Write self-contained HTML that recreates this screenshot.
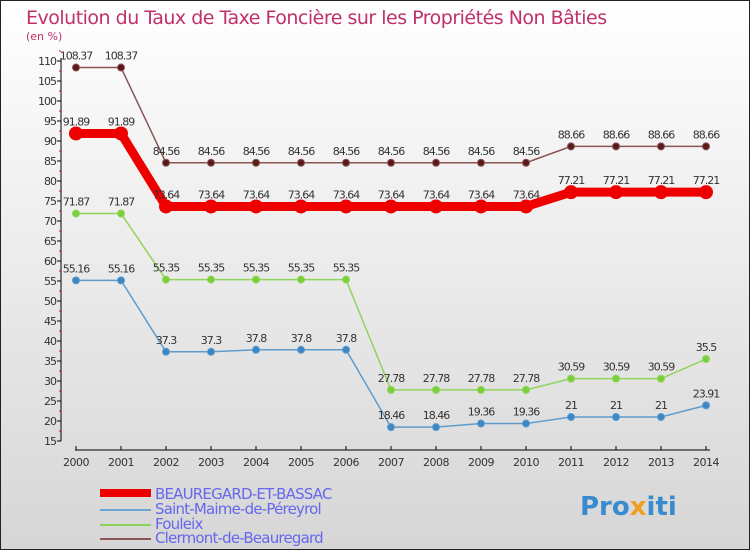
<!DOCTYPE html>
<html><head><meta charset="utf-8"><style>
body{margin:0}
svg{display:block;font-family:"DejaVu Sans","Liberation Sans",sans-serif}
</style></head><body>
<svg width="750" height="550">
<defs><linearGradient id="bg" x1="0" y1="0" x2="0" y2="1"><stop offset="0" stop-color="#ffffff"/><stop offset="1" stop-color="#d6d6d6"/></linearGradient></defs>
<rect x="0.5" y="0.5" width="749" height="549" fill="url(#bg)" stroke="#222"/>
<text x="26" y="24" font-size="19" fill="#c0306a" style="letter-spacing:-0.5px">Evolution du Taux de Taxe Foncière sur les Propriétés Non Bâties</text>
<text x="26" y="40" font-size="11" fill="#c0306a">(en %)</text>
<g id="axes"></g>
<g id="series"></g>
<g id="legend"></g>
<text x="580" y="515" font-size="26" font-weight="bold" fill="#3a8ad0">Pro<tspan fill="#f0a020">x</tspan>iti</text>
</svg>
<script>
const years=[2000,2001,2002,2003,2004,2005,2006,2007,2008,2009,2010,2011,2012,2013,2014];
const yTicks=[15,20,25,30,35,40,45,50,55,60,65,70,75,80,85,90,95,100,105,110];
const beauregard=[91.89,91.89,73.64,73.64,73.64,73.64,73.64,73.64,73.64,73.64,73.64,77.21,77.21,77.21,77.21];
const saintMaime=[55.16,55.16,37.3,37.3,37.8,37.8,37.8,18.46,18.46,19.36,19.36,21,21,21,23.91];
const fouleix=[71.87,71.87,55.35,55.35,55.35,55.35,55.35,27.78,27.78,27.78,27.78,30.59,30.59,30.59,35.5];
const clermont=[108.37,108.37,84.56,84.56,84.56,84.56,84.56,84.56,84.56,84.56,84.56,88.66,88.66,88.66,88.66];
const seriesNames=["BEAUREGARD-ET-BASSAC","Saint-Maime-de-Péreyrol","Fouleix","Clermont-de-Beauregard"];
const NS="http://www.w3.org/2000/svg";
const xS=i=>76+i*45;
const yS=v=>61+(110-v)*4;
function mk(t,a,p){const e=document.createElementNS(NS,t);for(const k in a)e.setAttribute(k,a[k]);p.appendChild(e);return e;}
const ax=document.getElementById('axes');
let l=mk('line',{x1:61,y1:58,x2:61,y2:441,stroke:'#000','stroke-width':1},ax);


yTicks.forEach(v=>{
  mk('line',{x1:57,y1:yS(v),x2:61,y2:yS(v),stroke:'#000'},ax);
  mk('line',{x1:59,y1:yS(v+2.5),x2:61,y2:yS(v+2.5),stroke:'#e00'},ax);
  const t=mk('text',{x:56,y:yS(v)+4,'font-size':11,'text-anchor':'end',fill:'#333','letter-spacing':'-1'},ax);
  t.textContent=v;
  
  
});
l=mk('line',{x1:75,y1:450,x2:710,y2:450,stroke:'#000'},ax);


years.forEach((y,i)=>{
  mk('line',{x1:xS(i),y1:446,x2:xS(i),y2:450,stroke:'#000'},ax);
  const t=mk('text',{x:xS(i),y:466,'font-size':11,'text-anchor':'middle',fill:'#333','letter-spacing':'-0.5'},ax);
  t.textContent=y;
  
  
});
const sg=document.getElementById('series');
function draw(vals,color,w,r,dot,name){
  const g=mk('g',{},sg);
  
  
  const pts=vals.map((v,i)=>xS(i)+','+yS(v)).join(' ');
  mk('polyline',{points:pts,fill:'none',stroke:color,'stroke-width':w,'stroke-linejoin':'round'},g);
  vals.forEach((v,i)=>{
    const c=mk('circle',{cx:xS(i),cy:yS(v),r:r,fill:dot,stroke:color,'stroke-width':1},g);
    
    
    const t=mk('text',{x:xS(i),y:yS(v)-8,'font-size':11,'text-anchor':'middle',fill:'#333','letter-spacing':'-1'},g);
    t.textContent=v;
    
    
  });
}
draw(clermont,'#8b5555',1.5,3.5,'#5a1a1a','series-clermont');
draw(fouleix,'#8fd45a',1.5,3.5,'#7ccf3a','series-fouleix');
draw(saintMaime,'#5e9ccc',1.5,3.5,'#3d86c4','series-saint-maime');
draw(beauregard,'#ee0000',9,6.5,'#ee0000','series-beauregard');
const lg=document.getElementById('legend');
const lc=['#ee0000','#6aa6d0','#8fd45a','#8b5555'],lw=[8,2,2,2],ly=[493,508,523,537];
seriesNames.forEach((n,i)=>{
  const g=mk('g',{},lg);
  
  
  mk('line',{x1:100,y1:ly[i]+(i?2:0),x2:151,y2:ly[i]+(i?2:0),stroke:lc[i],'stroke-width':lw[i]},g);
  const t=mk('text',{x:155,y:ly[i]+6,'font-size':15,fill:'#6666ee','letter-spacing':'-0.8'},g);
  t.textContent=n;
});
</script>
</body></html>
